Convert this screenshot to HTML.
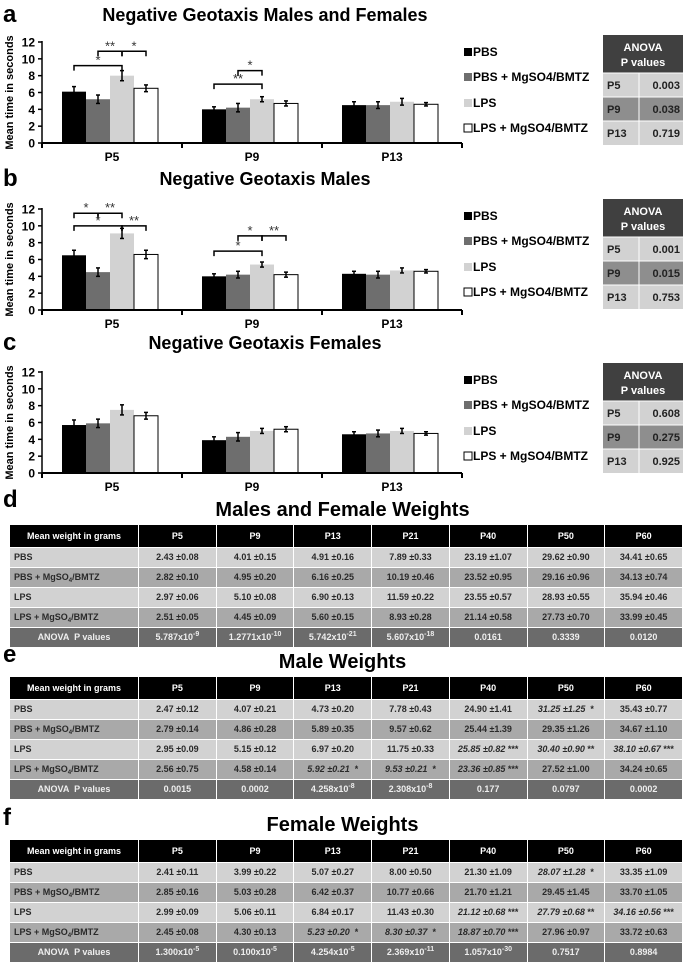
<!DOCTYPE html>
<html><head><meta charset="utf-8">
<style>
body{margin:0;background:#fff;width:685px;height:967px;overflow:hidden;position:relative;font-family:"Liberation Sans",Arial,sans-serif;}
svg{position:absolute;left:0;top:0;}
.tbl{position:absolute;left:9px;width:674px;border-collapse:collapse;table-layout:fixed;font-size:9px;font-weight:bold;}
.tbl td{border:1px solid #fff;text-align:center;padding:0;color:#2a2a2a;white-space:nowrap;overflow:hidden;line-height:11px;}
.tbl td.first{text-align:left;padding-left:4px;}
.tbl tr.hd td{background:#000;color:#fff;height:22px;}
.tbl tr.r1 td,.tbl tr.r3 td{background:#d2d2d2;height:19px;}
.tbl tr.r2 td,.tbl tr.r4 td{background:#a9a9a9;height:19px;}
.tbl tr.an td{background:#6b6b6b;color:#eee;height:19px;}
.tbl sup{font-size:7px;line-height:0;}
.tbl sub{font-size:6px;line-height:0;vertical-align:-2px;}
.ttl{position:absolute;font-weight:bold;font-size:20px;text-align:center;width:685px;left:0;}
.let{position:absolute;font-weight:bold;font-size:24px;left:3px;}
</style></head><body>
<svg id="charts" width="685" height="500"></svg>

<div class="let" style="top:486px">d</div>
<div class="ttl" style="top:499px">Males and Female Weights</div>
<div class="let" style="top:641px">e</div>
<div class="ttl" style="top:651px">Male Weights</div>
<div class="let" style="top:804px">f</div>
<div class="ttl" style="top:814px">Female Weights</div>

<script>
const groups = ['P5','P9','P13'];
const seriesNames = ['PBS','PBS + MgSO4/BMTZ','LPS','LPS + MgSO4/BMTZ'];
const seriesColors = ['#000','#6e6e6e','#d2d2d2','#fff'];
const yTicks = [0,2,4,6,8,10,12];
const chartTitles = ['Negative Geotaxis Males and Females','Negative Geotaxis Males','Negative Geotaxis Females'];
const chartLetters = ['a','b','c'];
const valuesA = [[6.1,4.0,4.5],[5.2,4.2,4.5],[8.0,5.2,4.9],[6.5,4.7,4.6]];
const errorsA = [[0.6,0.3,0.4],[0.5,0.5,0.4],[0.6,0.3,0.4],[0.4,0.3,0.2]];
const valuesB = [[6.5,4.0,4.3],[4.5,4.2,4.2],[9.1,5.4,4.7],[6.6,4.2,4.6]];
const errorsB = [[0.6,0.3,0.3],[0.5,0.4,0.4],[0.6,0.3,0.3],[0.5,0.3,0.2]];
const valuesC = [[5.7,3.9,4.6],[5.9,4.3,4.7],[7.5,5.0,5.0],[6.8,5.2,4.7]];
const errorsC = [[0.6,0.4,0.3],[0.5,0.5,0.4],[0.6,0.3,0.3],[0.4,0.3,0.2]];
const bracketsA = [[0,0,2,9.2,'*'],[0,1,2,10.9,'**'],[0,2,3,10.9,'*'],[1,0,2,7.0,'**'],[1,1,2,8.6,'*']];
const bracketsB = [[0,0,1,11.5,'*'],[0,1,2,11.5,'**'],[0,0,2,10.0,'*'],[0,2,3,10.0,'**'],[1,0,2,7.0,'*'],[1,1,2,8.8,'*'],[1,2,3,8.8,'**']];
const bracketsC = [];
const anovaGroups = ['P5','P9','P13'];
const anovaA = ['0.003','0.038','0.719'];
const anovaB = ['0.001','0.015','0.753'];
const anovaC = ['0.608','0.275','0.925'];

const charts = [
 {vals:valuesA, errs:errorsA, br:bracketsA, an:anovaA, zero:143, off:0},
 {vals:valuesB, errs:errorsB, br:bracketsB, an:anovaB, zero:310, off:164},
 {vals:valuesC, errs:errorsC, br:bracketsC, an:anovaC, zero:473, off:328}
];
const NS='http://www.w3.org/2000/svg';
const svg=document.getElementById('charts');
function mk(tag,attrs,parent){const e=document.createElementNS(NS,tag);for(const k in attrs)e.setAttribute(k,attrs[k]);(parent||svg).appendChild(e);return e;}
const X0=42, GW=140, BO=20, BW=24, PH=101, YMAX=12;

charts.forEach((c,ci)=>{
  const g=mk('g',{});
  
  
  const y=v=>c.zero-v/YMAX*PH;
  const bx=(gi,si)=>X0+gi*GW+BO+si*BW;
  let t=mk('text',{x:3,y:c.off+22,'font-size':24,'font-weight':'bold'},g);t.textContent=chartLetters[ci];
  
  
  t=mk('text',{x:265,y:c.off+21,'font-size':18,'font-weight':'bold','text-anchor':'middle'},g);t.textContent=chartTitles[ci];
  
  
  t=mk('text',{transform:`translate(13,${c.zero-PH/2}) rotate(-90)`,'font-size':11,'font-weight':'bold','text-anchor':'middle'},g);t.textContent='Mean time in seconds';
  
  
  mk('line',{x1:X0,y1:y(YMAX)-1,x2:X0,y2:c.zero,stroke:'#000','stroke-width':1.5},g);
  yTicks.forEach(v=>{
    mk('line',{x1:X0-4,y1:y(v),x2:X0,y2:y(v),stroke:'#000','stroke-width':1.5},g);
    const tt=mk('text',{x:X0-7,y:y(v)+4.5,'font-size':12,'font-weight':'bold','text-anchor':'end'},g);tt.textContent=v;
    
    
  });
  c.vals.forEach((sv,si)=>sv.forEach((v,gi)=>{
    const r=mk('rect',{x:bx(gi,si),y:y(v),width:BW,height:c.zero-y(v),fill:seriesColors[si],stroke:si==3?'#000':'none','stroke-width':1},g);
    
    
    const e=c.errs[si][gi], cx=bx(gi,si)+BW/2;
    mk('line',{x1:cx,y1:y(v+e),x2:cx,y2:y(v-e),stroke:'#000','stroke-width':1.5},g);
    mk('line',{x1:cx-2,y1:y(v+e),x2:cx+2,y2:y(v+e),stroke:'#000','stroke-width':1.5},g);
    mk('line',{x1:cx-2,y1:y(v-e),x2:cx+2,y2:y(v-e),stroke:'#000','stroke-width':1.5},g);
  }));
  mk('line',{x1:X0,y1:c.zero,x2:X0+3*GW,y2:c.zero,stroke:'#000','stroke-width':2},g);
  for(let i=0;i<=3;i++) mk('line',{x1:X0+i*GW,y1:c.zero,x2:X0+i*GW,y2:c.zero+5,stroke:'#000','stroke-width':2},g);
  groups.forEach((gn,gi)=>{
    const tt=mk('text',{x:X0+gi*GW+GW/2,y:c.zero+18,'font-size':12,'font-weight':'bold','text-anchor':'middle'},g);tt.textContent=gn;
    
    
  });
  c.br.forEach(b=>{
    const x1=bx(b[0],b[1])+BW/2,x2=bx(b[0],b[2])+BW/2,yy=y(b[3]);
    mk('path',{d:`M${x1} ${yy+5}V${yy}H${x2}V${yy+5}`,fill:'none',stroke:'#000','stroke-width':1.5},g);
    const tt=mk('text',{x:(x1+x2)/2,y:yy-1,'font-size':13,'text-anchor':'middle',fill:'#333'},g);tt.textContent=b[4];
    
    
  });
  const ly=[53,78,104,129];
  seriesNames.forEach((n,si)=>{
    const yy=c.off+ly[si];
    mk('rect',{x:464,y:yy-5,width:8,height:8,fill:seriesColors[si],stroke:si==3?'#000':'none'},g);
    const tt=mk('text',{x:473,y:yy+3,'font-size':12,'font-weight':'bold'},g);tt.textContent=n;
    
    
  });
  const top=c.off+35;
  mk('rect',{x:603,y:top,width:80,height:38,fill:'#404040'},g);
  let h=mk('text',{x:643,y:top+16,'font-size':11,'font-weight':'bold',fill:'#fff','text-anchor':'middle'},g);h.textContent='ANOVA';
  
  
  h=mk('text',{x:643,y:top+31,'font-size':11,'font-weight':'bold',fill:'#fff','text-anchor':'middle'},g);h.textContent='P values';
  const rc=['#d2d2d2','#8e8e8e','#d2d2d2'];
  anovaGroups.forEach((an,i)=>{
    const ry=top+38+i*24;
    mk('rect',{x:603,y:ry,width:80,height:24,fill:rc[i]},g);
    mk('line',{x1:603,y1:ry,x2:683,y2:ry,stroke:'#fff','stroke-width':1},g);
    mk('line',{x1:639,y1:ry,x2:639,y2:ry+24,stroke:'#fff','stroke-width':1},g);
    let tt=mk('text',{x:607,y:ry+16,'font-size':11,'font-weight':'bold',fill:'#222'},g);tt.textContent=an;
    tt=mk('text',{x:680,y:ry+16,'font-size':11,'font-weight':'bold',fill:'#222','text-anchor':'end'},g);tt.textContent=c.an[i];
    
    
  });
});

const tblCols = ['Mean weight in grams','P5','P9','P13','P21','P40','P50','P60'];
const rowLabels = ['PBS','PBS + MgSO<sub>4</sub>/BMTZ','LPS','LPS + MgSO<sub>4</sub>/BMTZ','ANOVA &nbsp;P values'];
const tableD = [
 ['2.43 ±0.08','4.01 ±0.15','4.91 ±0.16','7.89 ±0.33','23.19 ±1.07','29.62 ±0.90','34.41 ±0.65'],
 ['2.82 ±0.10','4.95 ±0.20','6.16 ±0.25','10.19 ±0.46','23.52 ±0.95','29.16 ±0.96','34.13 ±0.74'],
 ['2.97 ±0.06','5.10 ±0.08','6.90 ±0.13','11.59 ±0.22','23.55 ±0.57','28.93 ±0.55','35.94 ±0.46'],
 ['2.51 ±0.05','4.45 ±0.09','5.60 ±0.15','8.93 ±0.28','21.14 ±0.58','27.73 ±0.70','33.99 ±0.45'],
 ['5.787x10<sup>-9</sup>','1.2771x10<sup>-10</sup>','5.742x10<sup>-21</sup>','5.607x10<sup>-18</sup>','0.0161','0.3339','0.0120']];
const tableE = [
 ['2.47 ±0.12','4.07 ±0.21','4.73 ±0.20','7.78 ±0.43','24.90 ±1.41','<i>31.25 ±1.25</i> &nbsp;*','35.43 ±0.77'],
 ['2.79 ±0.14','4.86 ±0.28','5.89 ±0.35','9.57 ±0.62','25.44 ±1.39','29.35 ±1.26','34.67 ±1.10'],
 ['2.95 ±0.09','5.15 ±0.12','6.97 ±0.20','11.75 ±0.33','<i>25.85 ±0.82</i> ***','<i>30.40 ±0.90</i> **','<i>38.10 ±0.67</i> ***'],
 ['2.56 ±0.75','4.58 ±0.14','<i>5.92 ±0.21</i> &nbsp;*','<i>9.53 ±0.21</i> &nbsp;*','<i>23.36 ±0.85</i> ***','27.52 ±1.00','34.24 ±0.65'],
 ['0.0015','0.0002','4.258x10<sup>-8</sup>','2.308x10<sup>-8</sup>','0.177','0.0797','0.0002']];
const tableF = [
 ['2.41 ±0.11','3.99 ±0.22','5.07 ±0.27','8.00 ±0.50','21.30 ±1.09','<i>28.07 ±1.28</i> &nbsp;*','33.35 ±1.09'],
 ['2.85 ±0.16','5.03 ±0.28','6.42 ±0.37','10.77 ±0.66','21.70 ±1.21','29.45 ±1.45','33.70 ±1.05'],
 ['2.99 ±0.09','5.06 ±0.11','6.84 ±0.17','11.43 ±0.30','<i>21.12 ±0.68</i> ***','<i>27.79 ±0.68</i> **','<i>34.16 ±0.56</i> ***'],
 ['2.45 ±0.08','4.30 ±0.13','<i>5.23 ±0.20</i> &nbsp;*','<i>8.30 ±0.37</i> &nbsp;*','<i>18.87 ±0.70</i> ***','27.96 ±0.97','33.72 ±0.63'],
 ['1.300x10<sup>-5</sup>','0.100x10<sup>-5</sup>','4.254x10<sup>-5</sup>','2.369x10<sup>-11</sup>','1.057x10<sup>-30</sup>','0.7517','0.8984']];
[[tableD,524,'d'],[tableE,676,'e'],[tableF,839,'f']].forEach(([data,top,lt])=>{
  const t=document.createElement('table');
  t.className='tbl';t.style.top=top+'px';
  
  
  let html='<colgroup><col style="width:129px">'+'<col>'.repeat(7)+'</colgroup><tr class="hd">';
  tblCols.forEach(c=>html+='<td>'+c+'</td>');
  html+='</tr>';
  data.forEach((row,ri)=>{
    html+='<tr class="'+(ri==4?'an':'r'+(ri+1))+'"><td class="'+(ri==4?'':'first')+'">'+rowLabels[ri]+'</td>';
    row.forEach(v=>html+='<td>'+v+'</td>');
    html+='</tr>';
  });
  t.innerHTML=html;
  document.body.appendChild(t);
});
</script>
</body></html>
